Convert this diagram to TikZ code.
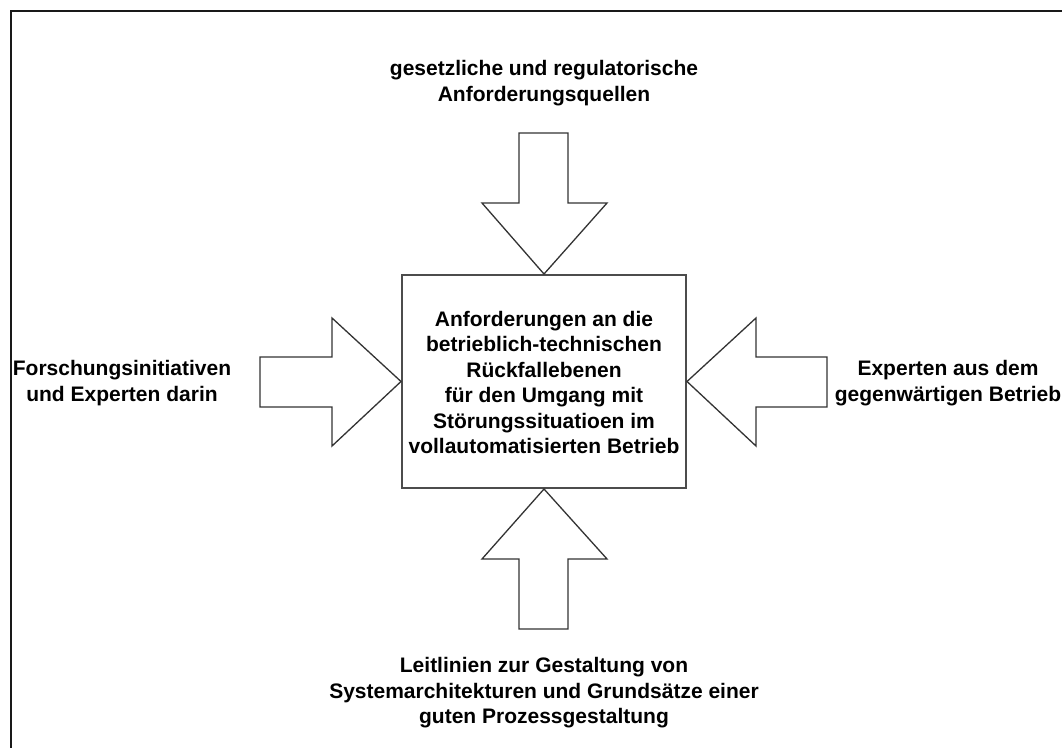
\documentclass[tikz,border=0pt]{standalone}
\usepackage{fontspec}
\setmainfont{Liberation Sans}
\begin{document}
\begin{tikzpicture}[x=1pt,y=-1pt,
  lbl/.style={font=\fontsize{21}{25.5}\selectfont\bfseries, align=center, inner sep=0pt, text=black},
  blockarrow/.style={draw=black!80, line width=1.3pt, fill=white, line join=miter},
  mainbox/.style={draw=black!70, line width=2pt, fill=white, minimum width=284pt, minimum height=213pt, inner sep=0pt}
]
\useasboundingbox (0,0) rectangle (1062,747);
\fill[white] (0,0) rectangle (1062,747);
% outer frame (running off the page on the right and at the bottom)
\draw[line width=2pt, black!90] (10.5,760) -- (10.5,11) -- (1075,11);

% central box
\node[mainbox] (box) at (544,381.5) {};
\node[lbl] (boxtext) at (544,382.5) {Anforderungen an die\\betrieblich-technischen\\Rückfallebenen\\für den Umgang mit\\Störungssituatioen im\\vollautomatisierten Betrieb};

% block arrows pointing at the box
\draw[blockarrow] (box.north) -- (482,203) -- (519,203) -- (519,133) -- (568,133) -- (568,203) -- (607,203) -- cycle;
\draw[blockarrow] (box.south) -- (482,559) -- (519,559) -- (519,629) -- (568,629) -- (568,559) -- (607,559) -- cycle;
\draw[blockarrow] (box.west) -- (332,318) -- (332,357) -- (260,357) -- (260,407) -- (332,407) -- (332,446) -- cycle;
\draw[blockarrow] (box.east) -- (756,318) -- (756,357) -- (827,357) -- (827,407) -- (756,407) -- (756,446) -- cycle;

% sources of requirements
\node[lbl] (top) at (544,83) {gesetzliche und regulatorische\\Anforderungsquellen};
\node[lbl] (left) at (122,383) {Forschungsinitiativen\\und Experten darin};
\node[lbl] (right) at (948,383) {Experten aus dem\\gegenwärtigen Betrieb};
\node[lbl] (bottom) at (544,693) {Leitlinien zur Gestaltung von\\Systemarchitekturen und Grundsätze einer\\guten Prozessgestaltung};
\end{tikzpicture}
\end{document}
